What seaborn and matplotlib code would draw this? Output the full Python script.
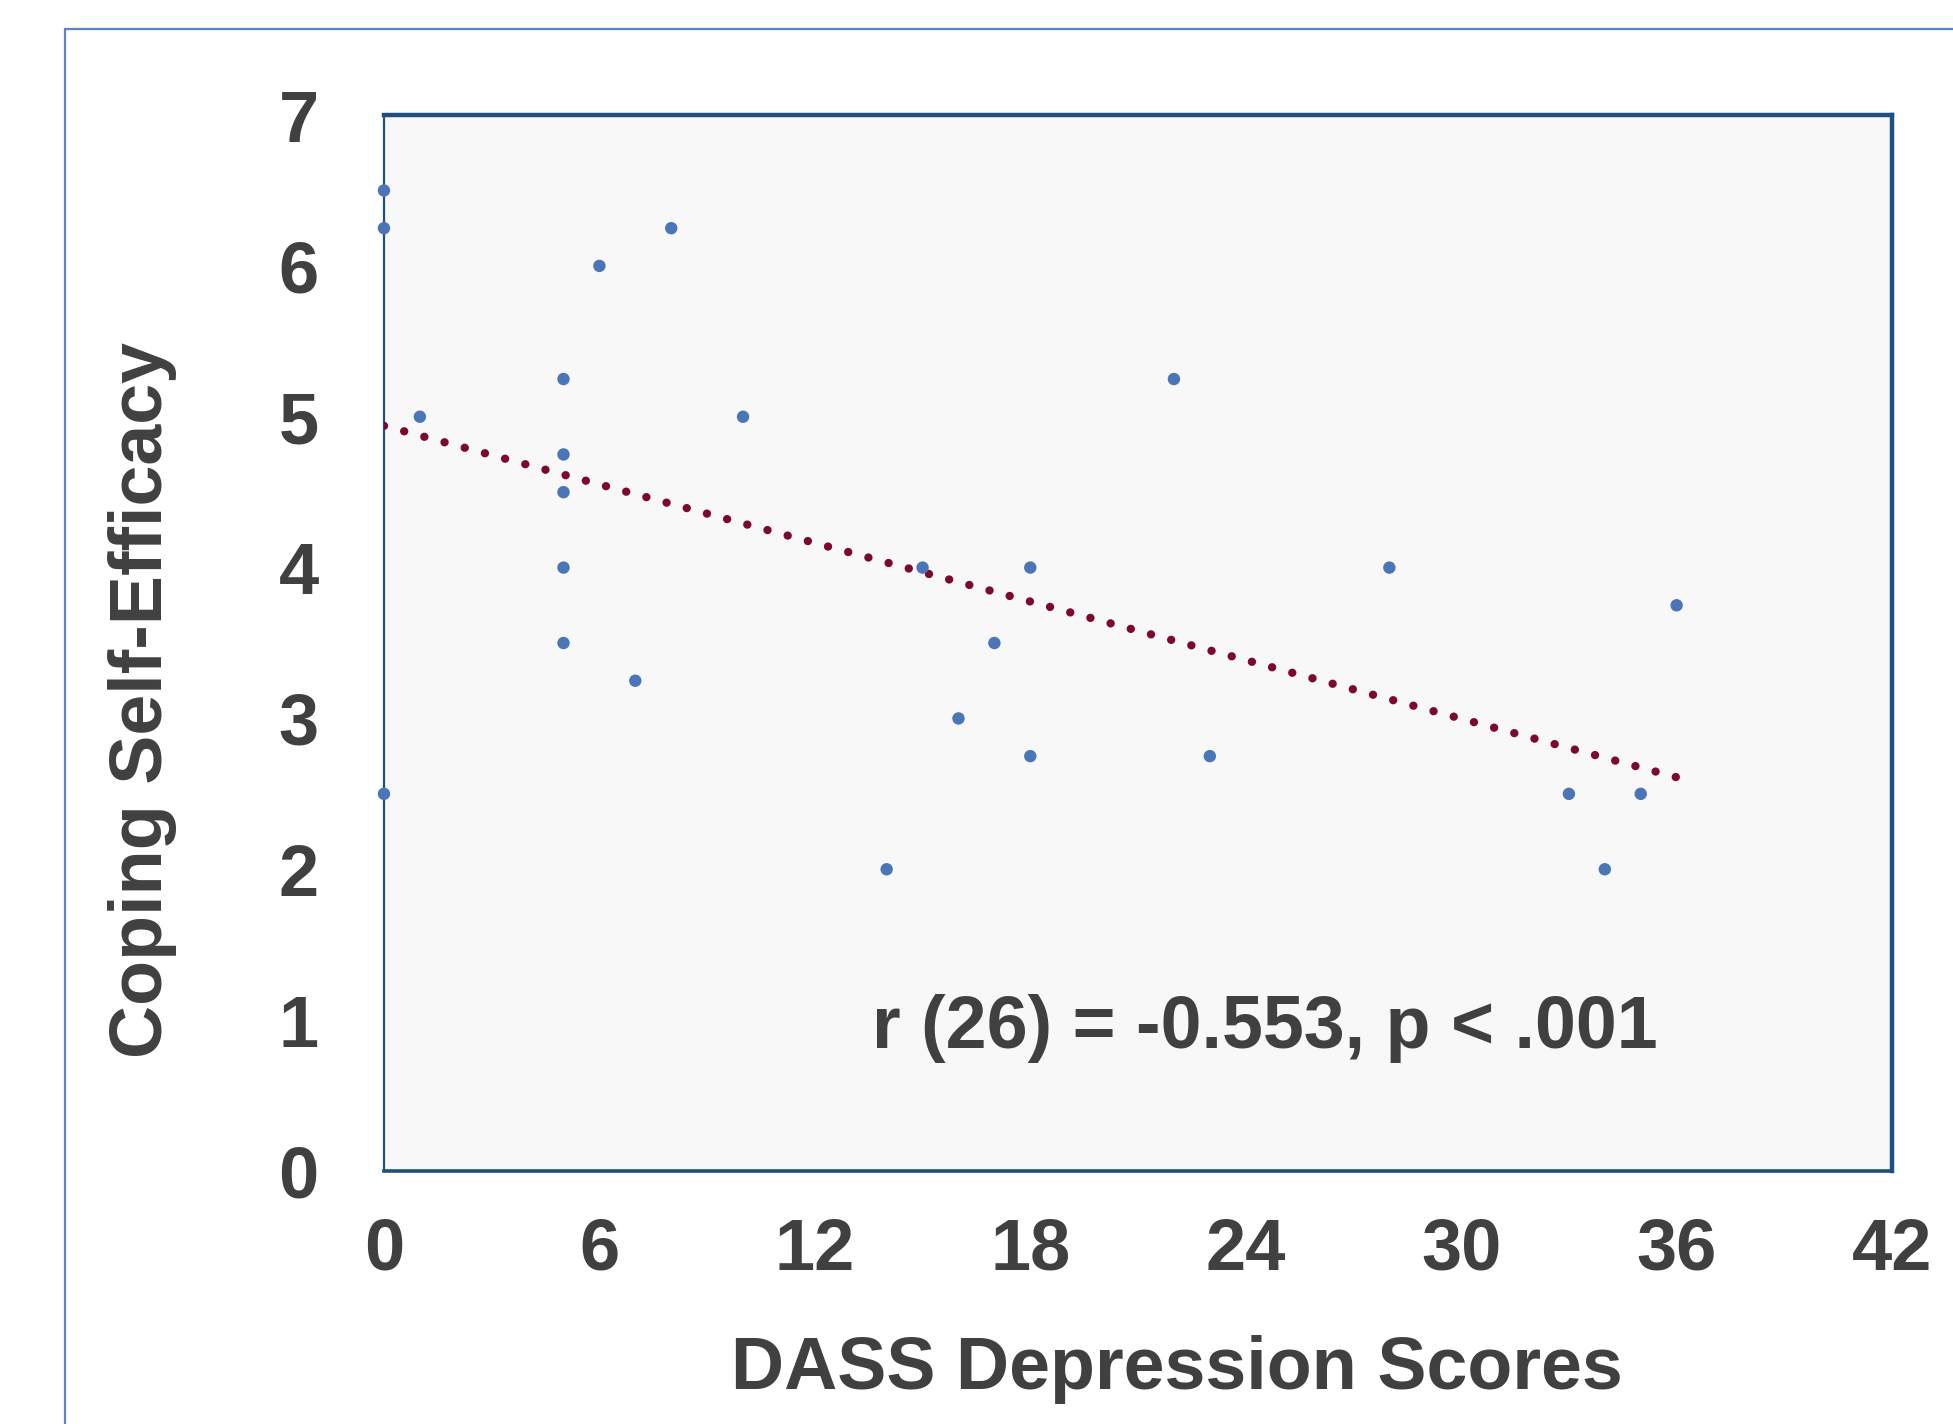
import matplotlib
matplotlib.use("Agg")
import matplotlib.pyplot as plt
import numpy as np
import pandas as pd
import seaborn as sns
from matplotlib.patches import Rectangle

# DASS depression score vs coping self-efficacy
dass_scores = [0, 0, 0, 1, 5, 5, 5, 5, 5, 6, 7, 8, 10, 14, 15, 16, 17, 18, 18,
               22, 23, 28, 33, 34, 35, 36]
coping = [6.5, 6.25, 2.5, 5.0, 5.25, 4.75, 4.5, 4.0, 3.5, 6.0, 3.25, 6.25, 5.0,
          2.0, 4.0, 3.0, 3.5, 4.0, 2.75, 5.25, 2.75, 4.0, 2.5, 2.0, 2.5, 3.75]
x_ticks = [0, 6, 12, 18, 24, 30, 36, 42]
y_ticks = [0, 1, 2, 3, 4, 5, 6, 7]
stat_text = "r (26) = -0.553, p < .001"

df = pd.DataFrame({"dass": dass_scores, "cse": coping})

sns.set_theme(style="white")
plt.rcParams["font.family"] = ["Liberation Sans", "DejaVu Sans"]
plt.rcParams["font.weight"] = "bold"

TEXT = "#404040"

fig = plt.figure(figsize=(19.53, 14.24), dpi=100)
ax = fig.add_axes([0.1966, 0.1777, 0.7722, 0.7415])
ax.set_facecolor("#f8f8f8")

# outer frame around the whole chart
fig.patches.append(Rectangle((0.0333, -0.1), 1.2, 0.1 + 0.9796,
                             transform=fig.transFigure, fill=False,
                             edgecolor="#5b87c0", linewidth=1.6, zorder=0))

sns.regplot(data=df, x="dass", y="cse", ax=ax, ci=None,
            scatter_kws={"s": 80, "color": "#4a76b8", "edgecolor": "none",
                         "alpha": 1, "clip_on": False, "zorder": 4},
            line_kws={"color": "#7b0a2a", "linewidth": 6,
                      "linestyle": (0, (0.01, 2.5)),
                      "dash_capstyle": "round", "zorder": 3})

ax.set_xlim(0, 42)
ax.set_ylim(0, 7)
ax.set_xticks(x_ticks)
ax.set_yticks(y_ticks)
ax.tick_params(direction="in", length=12, width=1.5, color="#c8c8c8",
               labelsize=52, labelcolor=TEXT)
ax.tick_params(axis="x", pad=33)
ax.tick_params(axis="y", pad=47)
for lab in ax.get_xticklabels() + ax.get_yticklabels():
    lab.set_fontweight("bold")

for side, lw in {"left": 1.6, "top": 3.2, "right": 3.2, "bottom": 2.6}.items():
    ax.spines[side].set_visible(True)
    ax.spines[side].set_color("#1f4e80")
    ax.spines[side].set_linewidth(lw)

ax.set_xlabel("DASS Depression Scores", fontsize=53, fontweight="bold", color=TEXT)
ax.set_ylabel("Coping Self-Efficacy", fontsize=53, fontweight="bold", color=TEXT)
ax.xaxis.set_label_coords(0.526, -0.188)
ax.xaxis.label.set_va("center")
ax.yaxis.set_label_coords(-0.160, 0.446)
ax.yaxis.label.set_va("center")

ax.text(0.584, 0.135, stat_text, transform=ax.transAxes, ha="center",
        va="center", fontsize=53, fontweight="bold", color=TEXT)

fig.savefig("out.png", dpi=100)
